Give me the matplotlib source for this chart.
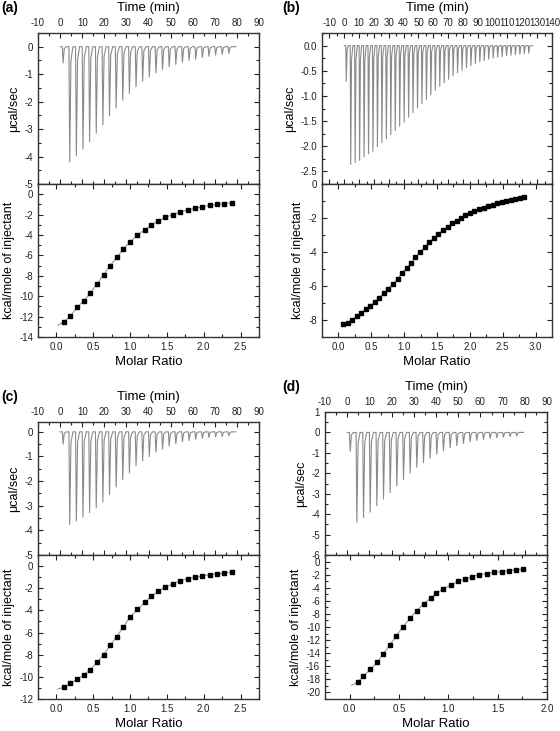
import matplotlib
matplotlib.use("Agg")
import matplotlib.pyplot as plt
from matplotlib.ticker import MultipleLocator, FormatStrFormatter

plt.rcParams['font.family'] = ['Liberation Sans', 'DejaVu Sans']
plt.rcParams['axes.unicode_minus'] = False

# ---- panel (a) ----
a_time = [1, 4, 7, 10, 13, 16, 19, 22, 25, 28, 31, 34, 37, 40, 43, 46, 49, 52,
          55, 58, 61, 64, 67, 70, 73, 76]
a_peak = [-0.59, -4.2, -3.97, -3.73, -3.46, -3.15, -2.84, -2.52, -2.23, -1.95,
          -1.7, -1.46, -1.26, -1.11, -0.95, -0.83, -0.73, -0.65, -0.56, -0.5,
          -0.45, -0.39, -0.35, -0.3, -0.28, -0.24]
a_ratio = [0.10, 0.19, 0.28, 0.37, 0.46, 0.55, 0.64, 0.73, 0.82, 0.91, 1.00,
           1.10, 1.20, 1.29, 1.38, 1.48, 1.58, 1.68, 1.78, 1.88, 1.98, 2.08,
           2.18, 2.28, 2.38]
a_heat = [-12.5, -11.95, -11.1, -10.45, -9.7, -8.8, -7.9, -7.0, -6.2, -5.35,
          -4.7, -4.0, -3.5, -3.0, -2.65, -2.27, -2.0, -1.75, -1.55, -1.38,
          -1.22, -1.1, -1.0, -0.92, -0.83]
a_fit0 = (0.02, -12.85)

# ---- panel (b) ----
b_time = [1, 4, 7, 10, 13, 16, 19, 22, 25, 28, 31, 34, 37, 40, 43, 46, 49, 52,
          55, 58, 61, 64, 67, 70, 73, 76, 79, 82, 85, 88, 91, 94, 97, 100, 103,
          106, 109, 112, 115, 118, 121, 124]
b_peak = [-0.71, -2.36, -2.32, -2.28, -2.21, -2.15, -2.1, -2.01, -1.93, -1.85,
          -1.77, -1.69, -1.6, -1.52, -1.42, -1.33, -1.24, -1.15, -1.07, -0.98,
          -0.89, -0.81, -0.74, -0.67, -0.6, -0.54, -0.49, -0.44, -0.4, -0.36,
          -0.32, -0.3, -0.27, -0.25, -0.23, -0.22, -0.2, -0.19, -0.18, -0.17,
          -0.16, -0.15]
b_ratio = [0.07, 0.14, 0.21, 0.28, 0.35, 0.42, 0.48, 0.55, 0.62, 0.69, 0.76,
           0.83, 0.90, 0.97, 1.04, 1.11, 1.17, 1.24, 1.31, 1.38, 1.45, 1.52,
           1.59, 1.66, 1.73, 1.80, 1.86, 1.93, 2.00, 2.07, 2.14, 2.21, 2.28,
           2.35, 2.42, 2.49, 2.55, 2.62, 2.69, 2.76, 2.83]
b_heat = [-8.25, -8.18, -7.98, -7.76, -7.58, -7.37, -7.17, -6.94, -6.69, -6.43,
          -6.15, -5.86, -5.56, -5.25, -4.94, -4.63, -4.32, -4.01, -3.72, -3.44,
          -3.18, -2.94, -2.71, -2.51, -2.32, -2.15, -1.99, -1.85, -1.72, -1.60,
          -1.49, -1.39, -1.30, -1.22, -1.14, -1.07, -1.00, -0.94, -0.88, -0.82,
          -0.76]
b_fit0 = (0.05, -8.3)

# ---- panel (c) ----
c_time = a_time
c_peak = [-0.5, -3.76, -3.62, -3.47, -3.28, -3.08, -2.85, -2.55, -2.24, -1.95,
          -1.67, -1.37, -1.18, -1.0, -0.83, -0.7, -0.58, -0.48, -0.4, -0.35,
          -0.3, -0.26, -0.23, -0.2, -0.19, -0.16]
c_ratio = a_ratio
c_heat = [-10.95, -10.6, -10.2, -9.85, -9.35, -8.7, -8.0, -7.17, -6.36, -5.48,
          -4.6, -3.92, -3.28, -2.74, -2.26, -1.9, -1.6, -1.33, -1.14, -1.0,
          -0.9, -0.78, -0.7, -0.63, -0.54]
c_fit0 = (0.02, -11.1)

# ---- panel (d) ----
d_time = a_time
d_peak = [-0.93, -4.4, -4.16, -3.9, -3.59, -3.26, -2.95, -2.61, -2.3, -1.99,
          -1.71, -1.48, -1.26, -1.06, -0.9, -0.75, -0.64, -0.54, -0.46, -0.39,
          -0.34, -0.29, -0.26, -0.23, -0.2, -0.18]
d_ratio = [0.08, 0.14, 0.21, 0.28, 0.34, 0.41, 0.47, 0.54, 0.61, 0.68, 0.75,
           0.82, 0.88, 0.95, 1.03, 1.10, 1.17, 1.24, 1.31, 1.39, 1.46, 1.54,
           1.61, 1.69, 1.76]
d_heat = [-18.46, -17.5, -16.46, -15.38, -14.1, -12.7, -11.4, -10.0, -8.7, -7.5,
          -6.46, -5.6, -4.87, -4.15, -3.54, -3.0, -2.67, -2.3, -2.05, -1.85,
          -1.64, -1.54, -1.38, -1.28, -1.18]
d_fit0 = (0.02, -18.9)

W, H = 560.0, 731.0
fig = plt.figure(figsize=(5.6, 7.31), dpi=100)


def rect(l, r, t, b):
    return [l / W, 1 - b / H, (r - l) / W, (b - t) / H]


def style(ax):
    ax.tick_params(which='both', direction='in', top=True, bottom=True,
                   left=True, right=True, labelsize=7, colors='#222222',
                   width=0.8)
    ax.tick_params(which='major', length=3.5)
    ax.tick_params(which='minor', length=2)
    for s in ax.spines.values():
        s.set_linewidth(1.0)
        s.set_color('#333333')


def panel(box_top, box_bot, letter, lx, times, peaks, base_end, tlim,
          ylim_top, ystep_top, yfmt_top, ratio, heat, fit0, xlim_bot,
          ylim_bot, ystep_bot):
    ax1 = fig.add_axes(rect(*box_top))
    ax2 = fig.add_axes(rect(*box_bot))

    # raw thermogram: a spike per injection
    xs, ys = [0], [0]
    for t, p in zip(times, peaks):
        xs += [t, t + 0.35, t + 0.9, t + 1.8]
        ys += [0, p, 0.12 * p, 0]
    xs.append(base_end)
    ys.append(0)
    ax1.plot(xs, ys, color='#8a8a8a', lw=0.8)
    ax1.set_xlim(*tlim)
    ax1.set_ylim(*ylim_top)
    ax1.xaxis.set_major_locator(MultipleLocator(10))
    ax1.xaxis.set_minor_locator(MultipleLocator(5))
    ax1.yaxis.set_major_locator(MultipleLocator(ystep_top))
    ax1.yaxis.set_minor_locator(MultipleLocator(ystep_top / 2))
    ax1.yaxis.set_major_formatter(FormatStrFormatter(yfmt_top))
    style(ax1)
    ax1.tick_params(labeltop=True, labelbottom=False)
    ax1.xaxis.set_label_position('top')
    ax1.set_xlabel('Time (min)', fontsize=9.5, labelpad=5)
    ax1.set_ylabel('μcal/sec', fontsize=9, labelpad=3)

    # integrated heats
    ax2.plot([fit0[0]] + ratio, [fit0[1]] + heat, color='#999999', lw=0.8,
             zorder=2)
    ax2.plot(ratio, heat, 's', color='black', ms=3.4, zorder=3)
    ax2.set_xlim(*xlim_bot)
    ax2.set_ylim(*ylim_bot)
    ax2.xaxis.set_major_locator(MultipleLocator(0.5))
    ax2.xaxis.set_minor_locator(MultipleLocator(0.25))
    ax2.xaxis.set_major_formatter(FormatStrFormatter('%.1f'))
    ax2.yaxis.set_major_locator(MultipleLocator(ystep_bot))
    ax2.yaxis.set_minor_locator(MultipleLocator(ystep_bot / 2))
    ax2.yaxis.set_major_formatter(FormatStrFormatter('%d'))
    style(ax2)
    ax2.set_xlabel('Molar Ratio', fontsize=9.5, labelpad=3)
    ax2.set_ylabel('kcal/mole of injectant', fontsize=9, labelpad=3)

    fig.text(lx / W, 1 - (box_top[2] - 25) / H, letter, fontsize=10,
             fontweight='bold', va='center', ha='left')


panel((38, 259, 33, 184), (38, 259, 184, 337), '(a)', 1, a_time, a_peak, 79.5,
      (-10, 90), (-5, 0.5), 1, '%d', a_ratio, a_heat, a_fit0,
      (-0.25, 2.75), (-14, 1), 2)
panel((322, 552, 33, 184), (322, 552, 184, 337), '(b)', 282, b_time, b_peak,
      127, (-15, 140), (-2.75, 0.25), 0.5, '%.1f', b_ratio, b_heat, b_fit0,
      (-0.25, 3.25), (-9, 0), 2)
panel((38, 259, 422, 555), (38, 259, 555, 699), '(c)', 1, c_time, c_peak, 79.5,
      (-10, 90), (-5, 0.4), 1, '%d', c_ratio, c_heat, c_fit0,
      (-0.25, 2.75), (-12, 1), 2)
panel((325, 547, 412, 555), (325, 547, 555, 699), '(d)', 282, d_time, d_peak,
      79.5, (-10, 90), (-6, 1), 1, '%d', d_ratio, d_heat, d_fit0,
      (-0.25, 2.0), (-21, 1), 2)

fig.savefig('out.png', dpi=100)
